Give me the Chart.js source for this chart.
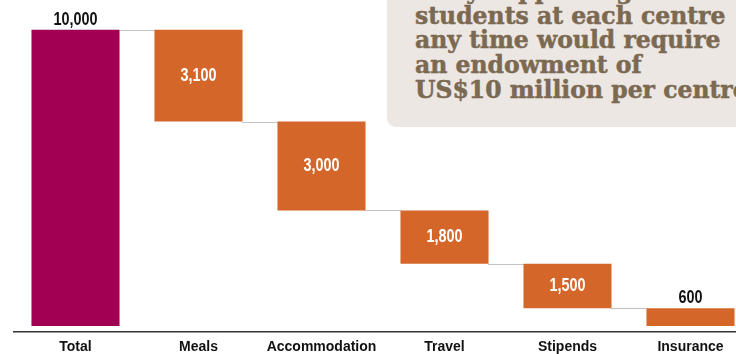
<!DOCTYPE html>
<html>
<head>
<meta charset="utf-8">
<script src="https://cdn.jsdelivr.net/npm/chart.js@4.4.1/dist/chart.umd.min.js"></script>
<style>
  html, body { margin: 0; padding: 0; background: #fff; overflow: hidden; }
  #wrap { position: relative; width: 736px; height: 354px; overflow: hidden; }
  #box { position: absolute; left: 0; top: 0; width: 756px; height: 354px; }
  .note {
    position: absolute; left: 387px; top: -20px; width: 420px; height: 147px;
    background: #ece7e2; border-radius: 9px;
  }
  .note div {
    position: absolute; left: 28px; top: -1px; white-space: nowrap;
    font-family: "DejaVu Serif", serif; font-weight: bold; font-size: 23.5px;
    line-height: 24.7px; color: #7b6952; -webkit-text-stroke: 0.5px #7b6952;
  }
</style>
</head>
<body>
<div id="wrap">
  <div id="box"><canvas id="chart"></canvas></div>
  <div class="note"><div>Fully supporting 20 PhD<br>students at each centre<br>any time would require<br>an endowment of<br>US$10 million per centre</div></div>
</div>
<script>
const categories = ['Total', 'Meals', 'Accommodation', 'Travel', 'Stipends', 'Insurance'];
const total = 10000;
const costs = [3100, 3000, 1800, 1500, 600];

const values = [total].concat(costs);
const ranges = [[0, total]];
let running = total;
costs.forEach(c => { ranges.push([running - c, running]); running -= c; });

const FONT = '"Liberation Sans", Arial, sans-serif';

const connectors = {
  id: 'connectors',
  afterDatasetsDraw(chart) {
    const ctx = chart.ctx;
    const y = chart.scales.y;
    const bars = chart.getDatasetMeta(0).data;
    ctx.save();
    ctx.strokeStyle = '#8a8a8a';
    ctx.lineWidth = 1.2;
    ctx.setLineDash([1, 1]);
    for (let i = 0; i < bars.length - 1; i++) {
      const level = ranges[i + 1][1];
      const py = Math.round(y.getPixelForValue(level)) + 0.5;
      ctx.beginPath();
      ctx.moveTo(bars[i].x + bars[i].width / 2, py);
      ctx.lineTo(bars[i + 1].x - bars[i + 1].width / 2, py);
      ctx.stroke();
    }
    ctx.restore();
  }
};

// value labels, drawn slightly condensed
const valueLabels = {
  id: 'valueLabels',
  afterDatasetsDraw(chart) {
    const ctx = chart.ctx;
    const bars = chart.getDatasetMeta(0).data;
    bars.forEach((bar, i) => {
      const txt = values[i].toLocaleString('en-US');
      const h = Math.abs(bar.base - bar.y);
      let ty, col;
      if (i === 0 || h < 30) {
        col = '#111';
        ty = Math.min(bar.y, bar.base) - 10;
      } else {
        col = '#fff';
        ty = (bar.y + bar.base) / 2;
      }
      ctx.save();
      ctx.translate(bar.x, ty);
      ctx.scale(0.8, 1);
      ctx.textAlign = 'center';
      ctx.textBaseline = 'middle';
      ctx.font = 'bold 18px ' + FONT;
      ctx.fillStyle = col;
      ctx.fillText(txt, 0, 0);
      ctx.restore();
    });
  }
};

new Chart(document.getElementById('chart'), {
  type: 'bar',
  data: {
    labels: categories,
    datasets: [{
      data: ranges,
      backgroundColor: ['#a10053', '#d5662a', '#d5662a', '#d5662a', '#d5662a', '#d5662a'],
      borderWidth: 0,
      borderSkipped: false,
      categoryPercentage: 1,
      barPercentage: 0.716
    }]
  },
  options: {
    responsive: true,
    maintainAspectRatio: false,
    animation: false,
    layout: { padding: { left: 14, right: 4, top: 0, bottom: 0 } },
    plugins: {
      legend: { display: false },
      tooltip: { enabled: false }
    },
    scales: {
      x: {
        grid: { display: false, drawTicks: false },
        border: { display: true, color: '#333', width: 1.5 },
        ticks: {
          color: '#111',
          padding: 7,
          autoSkip: false,
          maxRotation: 0,
          minRotation: 0,
          font: { family: FONT, size: 14, weight: 'bold' }
        },
        afterFit(scale) { scale.height = 22; }
      },
      y: {
        display: false,
        min: -200,
        max: 11000
      }
    }
  },
  plugins: [connectors, valueLabels]
});
</script>
</body>
</html>
